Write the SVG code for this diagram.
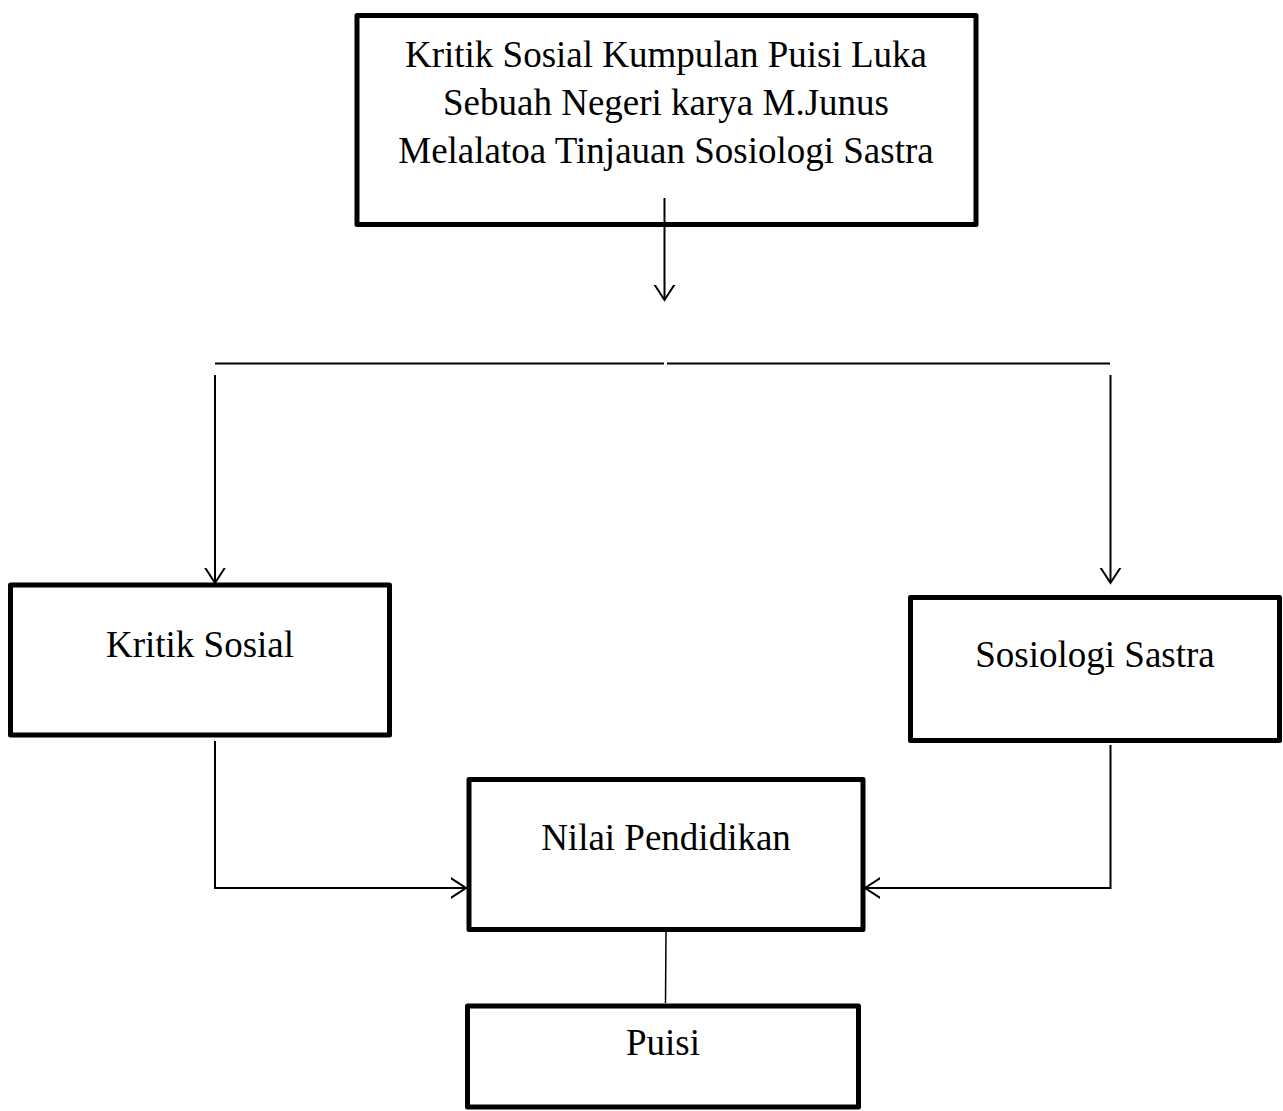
<svg xmlns="http://www.w3.org/2000/svg" width="1283" height="1111" viewBox="0 0 1283 1111">
  <defs>
    <marker id="arrow" markerUnits="userSpaceOnUse" markerWidth="30" markerHeight="30" viewBox="-15 -15 30 30" refX="0" refY="0" orient="auto">
      <polyline points="-17,-11 0,0 -17,11" fill="none" stroke="#000" stroke-width="2"/>
    </marker>
    <style>
      .box { fill: #fff; stroke: #000; stroke-width: 5; stroke-linejoin: round; }
      .lbl { font-family: "Liberation Serif", "Times New Roman", serif; font-size: 37px; fill: #000; text-anchor: middle; }
      .conn { fill: none; stroke: #000; stroke-width: 2; }
      .thin { fill: none; stroke: #000; stroke-width: 1.5; }
    </style>
  </defs>
  <rect width="1283" height="1111" fill="#fff"/>

  <g id="node-main">
    <rect class="box" x="357" y="15.5" width="619" height="209"/>
    <text class="lbl" x="666" y="67">Kritik Sosial Kumpulan Puisi Luka</text>
    <text class="lbl" x="666" y="115">Sebuah Negeri karya M.Junus</text>
    <text class="lbl" x="666" y="163">Melalatoa Tinjauan Sosiologi Sastra</text>
  </g>

  <g id="node-kritik-sosial">
    <rect class="box" x="10.5" y="585" width="379" height="150"/>
    <text class="lbl" x="200" y="657">Kritik Sosial</text>
  </g>

  <g id="node-sosiologi-sastra">
    <rect class="box" x="910.5" y="597.5" width="369" height="143"/>
    <text class="lbl" x="1095" y="667">Sosiologi Sastra</text>
  </g>

  <g id="node-nilai-pendidikan">
    <rect class="box" x="469" y="779.5" width="394" height="150"/>
    <text class="lbl" x="666" y="850">Nilai Pendidikan</text>
  </g>

  <g id="node-puisi">
    <rect class="box" x="467.5" y="1006" width="391" height="101"/>
    <text class="lbl" x="663" y="1055">Puisi</text>
  </g>

  <g id="connectors">
    <line class="conn" x1="664.5" y1="198" x2="664.5" y2="300" marker-end="url(#arrow)"/>
    <line class="conn" x1="215" y1="363.5" x2="664" y2="363.5"/>
    <line class="conn" x1="667" y1="363.5" x2="1110" y2="363.5"/>
    <line class="conn" x1="215" y1="375" x2="215" y2="583" marker-end="url(#arrow)"/>
    <line class="conn" x1="1110.5" y1="375" x2="1110.5" y2="583" marker-end="url(#arrow)"/>
    <polyline class="conn" points="215,741 215,888 466,888" marker-end="url(#arrow)"/>
    <polyline class="conn" points="1110.5,745 1110.5,888 865,888" marker-end="url(#arrow)"/>
    <line class="thin" x1="666" y1="932" x2="665.5" y2="1003"/>
  </g>
</svg>
